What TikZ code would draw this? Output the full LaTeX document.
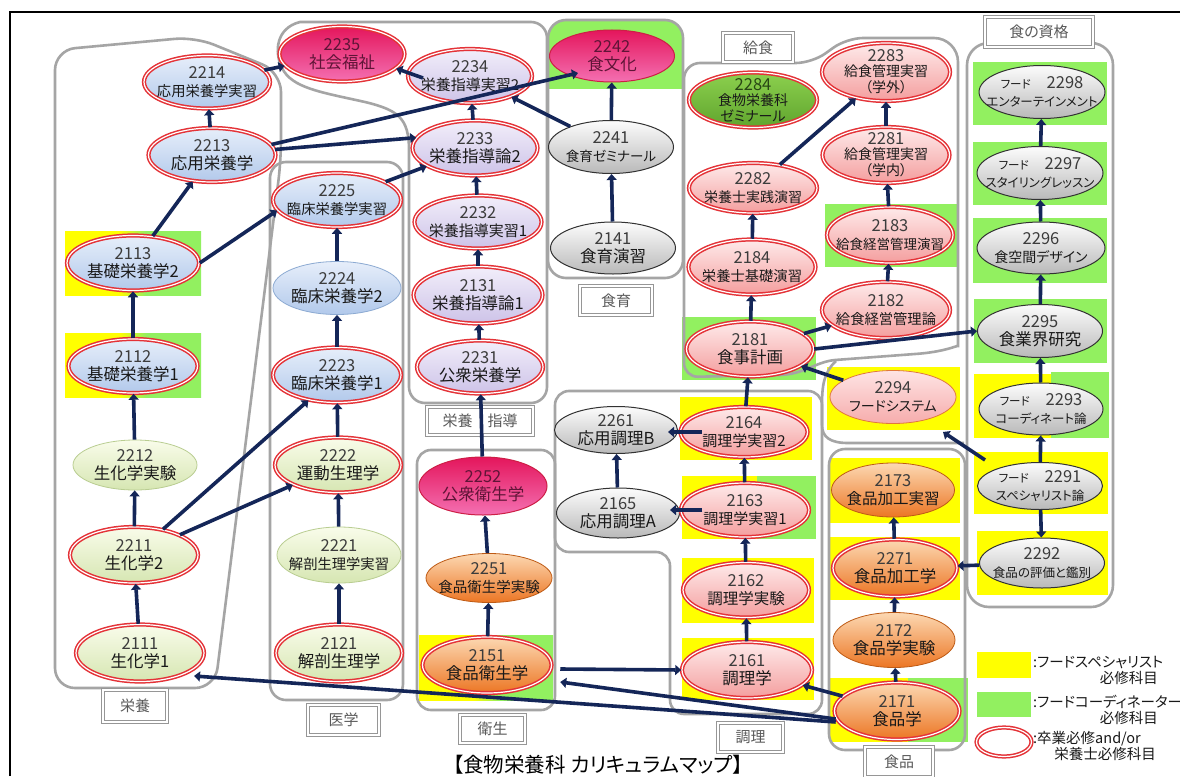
\documentclass[tikz,border=0pt]{standalone}
\usepackage{fontspec}
\usetikzlibrary{arrows.meta,shapes.geometric,calc}
\newfontfamily\jp[RawFeature=+palt]{Noto Sans CJK JP}

% palette
\definecolor{navy}{RGB}{20,38,88}
\definecolor{grpc}{RGB}{165,165,165}
\definecolor{ylw}{RGB}{255,255,0}
\definecolor{grn}{RGB}{146,240,96}
\definecolor{ringc}{RGB}{228,50,55}
\definecolor{numc}{RGB}{60,60,60}
\definecolor{txtc}{RGB}{25,25,25}
\definecolor{tagc}{RGB}{150,150,150}
\definecolor{tagtxt}{RGB}{90,90,90}
\definecolor{bluet}{RGB}{230,238,250}
\definecolor{blueb}{RGB}{178,201,235}
\definecolor{blueo}{RGB}{140,170,210}
\definecolor{lavt}{RGB}{242,238,250}
\definecolor{lavb}{RGB}{205,195,232}
\definecolor{lgt}{RGB}{249,252,234}
\definecolor{lgb}{RGB}{214,230,178}
\definecolor{lgo}{RGB}{185,205,145}
\definecolor{magt}{RGB}{228,22,92}
\definecolor{magb}{RGB}{244,112,178}
\definecolor{mago}{RGB}{205,30,70}
\definecolor{magtxt}{RGB}{95,20,55}
\definecolor{gryt}{RGB}{252,252,252}
\definecolor{gryb}{RGB}{185,185,185}
\definecolor{gryo}{RGB}{50,50,50}
\definecolor{salt}{RGB}{254,234,234}
\definecolor{salb}{RGB}{244,158,158}
\definecolor{orgt}{RGB}{252,216,178}
\definecolor{orgb}{RGB}{236,118,36}
\definecolor{orgo}{RGB}{190,90,20}
\definecolor{gnt}{RGB}{140,208,78}
\definecolor{gnb}{RGB}{96,165,46}
\definecolor{gntxt}{RGB}{40,70,20}
\definecolor{pnkt}{RGB}{254,228,228}
\definecolor{pnkb}{RGB}{246,172,172}
\definecolor{pnko}{RGB}{225,120,60}

% yellow-to-green split used behind courses counted for both certificates
\pgfdeclarehorizontalshading{ygsplit}{100bp}{color(0bp)=(ylw); color(45bp)=(ylw); color(55bp)=(grn); color(100bp)=(grn)}

% one course: ellipse n<code> plus its caption t<code>
\newcommand{\crs}[6]{%
  \node[#3, minimum width=#4pt, minimum height=#5pt] (n#1) at (#2) {};
  \node[ctext] (t#1) at (n#1.center) {#6};}
\newcommand{\nm}[2][numc]{{\color{#1}\fontsize{16.5}{18}\selectfont #2}}
\newcommand{\lb}[2][16.5]{{\fontsize{#1}{#1}\selectfont #2}}
\newcommand{\fd}[1]{{\fontsize{11.5}{12}\selectfont フード}\hspace{16pt}\nm{#1}}

\begin{document}
\begin{tikzpicture}[x=1pt,y=-1pt,
  crsbase/.style={ellipse, inner sep=0pt, line width=0.8pt},
  ringed/.style={draw=ringc, double=white, double distance=1.2pt, line width=1.5pt},
  bluen/.style={crsbase, top color=bluet, bottom color=blueb, draw=blueo},
  lavn/.style={crsbase, top color=lavt, bottom color=lavb, draw=lavb},
  lgn/.style={crsbase, top color=lgt, bottom color=lgb, draw=lgo},
  magn/.style={crsbase, top color=magt, bottom color=magb, draw=mago},
  magthin/.style={magn, line width=1pt},
  gryn/.style={crsbase, top color=gryt, bottom color=gryb, draw=gryo, line width=1pt},
  saln/.style={crsbase, top color=salt, bottom color=salb, draw=ringc},
  orgn/.style={crsbase, top color=orgt, bottom color=orgb, draw=orgo},
  grnn/.style={crsbase, top color=gnt, bottom color=gnb, draw=gnb},
  pnkn/.style={crsbase, top color=pnkt, bottom color=pnkb, draw=pnko},
  ctext/.style={align=center, inner sep=0pt, text=txtc, font=\jp\fontsize{16}{18}\selectfont},
  grouptag/.style={draw=tagc, line width=0.9pt, double=white, double distance=1.8pt, fill=white,
    text=tagtxt, font=\jp\fontsize{15}{15}\selectfont, inner sep=0pt},
  grp/.style={draw=grpc, line width=2.6pt},
  flow/.style={draw=navy, line width=3.6pt, -{Triangle[length=6pt,width=10pt]}},
  legtext/.style={anchor=west, inner sep=0pt, text=txtc, font=\jp\fontsize{14.5}{15}\selectfont}
]
\useasboundingbox (0,0) rectangle (1180,776);
\fill[white] (0,0) rectangle (1180,776);

% page frame
\draw[line width=1.4pt] (10,776) -- (10,12) -- (1180,12);

% certificate backgrounds
\shade[shading=ygsplit] (65,231) rectangle (201,295);
\shade[shading=ygsplit] (65,333) rectangle (201,397);
\shade[shading=ygsplit] (419,635) rectangle (553,700);
\begin{scope}
  \clip[rounded corners=18pt] (548,20) rectangle (683,278);
  \fill[grn] (548,20) rectangle (683,89);
\end{scope}
\fill[grn] (825,204) rectangle (957,267);
\fill[grn] (682,317) rectangle (816,380);
\fill[ylw] (680,397) rectangle (812,460);
\fill[ylw] (682,476) rectangle (757,539);
\fill[grn] (757,476) rectangle (816,539);
\fill[ylw] (682,558) rectangle (814,623);
\fill[ylw] (682,638) rectangle (814,700);
\fill[ylw] (827,367) rectangle (960,430);
\fill[ylw] (830,458) rectangle (960,523);
\fill[ylw] (830,537) rectangle (960,600);
\fill[ylw] (830,678) rectangle (908,742);
\fill[grn] (908,678) rectangle (968,742);
\fill[grn] (973,62) rectangle (1107,125);
\fill[grn] (973,142) rectangle (1107,205);
\fill[grn] (973,218) rectangle (1107,283);
\fill[grn] (974,299) rectangle (1107,363);
\fill[ylw] (974,374) rectangle (1051,438);
\fill[grn] (1051,372) rectangle (1109,438);
\fill[ylw] (974,452) rectangle (1108,514);
\fill[ylw] (977,531) rectangle (1108,595);

% subject group outlines
\draw[grp, rounded corners=20pt] (55,400) -- (55,50) -- (195,37) -- (281,72) -- (281,160) -- (215,688) -- (55,688) -- (55,400);
\draw[grp, rounded corners=16pt] (270,162) rectangle (403,700);
\draw[grp] (409,250) -- (409,150) .. controls (409,118) and (398,110) .. (365,102)
  .. controls (320,92) and (292,88) .. (282,68) .. controls (274,52) and (276,28) .. (300,22)
  [rounded corners=16pt] -- (547,22) -- (547,403) -- (409,403) -- (409,250);
\draw[grp, rounded corners=18pt] (548,20) rectangle (683,278);
\draw[grp] (684,220) [rounded corners=16pt] -- (684,63) -- (812,63) -- (847,38)
  [rounded corners=24pt] -- (958,38) -- (958,322)
  [sharp corners] .. controls (958,345) and (945,352) .. (915,354) -- (835,360)
  .. controls (815,362) and (805,374) .. (780,375) [rounded corners=14pt] -- (684,377) -- (684,220);
\draw[grp, rounded corners=14pt] (555,470) -- (555,391) -- (822,391) -- (822,714) -- (670,714) -- (670,552) -- (555,552) -- (555,470);
\draw[grp] (836,361) .. controls (824,372) and (822,385) .. (822,405) -- (822,425)
  .. controls (822,437) and (830,443) .. (848,443) -- (964,443);
\draw[grp, rounded corners=14pt] (417,450) rectangle (555,710);
\draw[grp, rounded corners=16pt] (829,449) rectangle (965,750);
\draw[grp, rounded corners=22pt] (967,43) rectangle (1113,607);

% group tags
\node[grouptag, minimum width=64pt, minimum height=32pt] (gEiyo) at (135,706) {栄養};
\node[grouptag, minimum width=71pt, minimum height=30pt] (gIgaku) at (343.5,720) {医学};
\node[grouptag, minimum width=106pt, minimum height=28pt] (gShido) at (480,421) {栄養　指導};
\node[grouptag, minimum width=72pt, minimum height=29pt] (gShokuiku) at (616,300.5) {食育};
\node[grouptag, minimum width=70pt, minimum height=29pt] (gKyushoku) at (758,47.5) {給食};
\node[grouptag, minimum width=108pt, minimum height=30pt] (gShikaku) at (1039,32) {食の資格};
\node[grouptag, minimum width=65pt, minimum height=28pt] (gEisei) at (492.5,729) {衛生};
\node[grouptag, minimum width=65pt, minimum height=29pt] (gChori) at (750.5,737.5) {調理};
\node[grouptag, minimum width=68pt, minimum height=30pt] (gShokuhin) at (899,762) {食品};

% courses
\crs{2214}{207,82}{bluen,ringed}{126}{53}{\nm{2214}\\\lb[14.3]{応用栄養学実習}}
\crs{2213}{212,155}{bluen,ringed}{127}{54}{\nm{2213}\\\lb{応用栄養学}}
\crs{2113}{133,263}{bluen,ringed}{132}{55}{\nm{2113}\\\lb{基礎栄養学2}}
\crs{2112}{133,366}{bluen,ringed}{129}{54}{\nm{2112}\\\lb{基礎栄養学1}}
\crs{2212}{135,465}{lgn}{124}{50}{\nm{2212}\\\lb{生化学実験}}
\crs{2211}{134,555}{lgn,ringed}{128}{56}{\nm{2211}\\\lb{生化学2}}
\crs{2111}{140,653}{lgn,ringed}{128}{57}{\nm{2111}\\\lb{生化学1}}
\crs{2225}{337,200}{bluen,ringed}{128}{54}{\nm{2225}\\\lb[14.3]{臨床栄養学実習}}
\crs{2224}{337,288}{bluen}{128}{53}{\nm{2224}\\\lb{臨床栄養学2}}
\crs{2223}{337,375}{bluen,ringed}{128}{55}{\nm{2223}\\\lb{臨床栄養学1}}
\crs{2222}{338,465}{lgn,ringed}{126}{55}{\nm{2222}\\\lb{運動生理学}}
\crs{2221}{339,555}{lgn}{124}{56}{\nm{2221}\\\lb[14.3]{解剖生理学実習}}
\crs{2121}{339,653}{lgn,ringed}{126}{57}{\nm{2121}\\\lb{解剖生理学}}
\crs{2235}{342,54}{magn,ringed}{125}{55}{\nm[magtxt]{2235}\\\lb{\color{magtxt}社会福祉}}
\crs{2234}{470,76}{lavn,ringed}{124}{54}{\nm{2234}\\\lb[15]{栄養指導実習2}}
\crs{2233}{475,148}{lavn,ringed}{125}{55}{\nm{2233}\\\lb{栄養指導論2}}
\crs{2232}{478,222}{lavn,ringed}{127}{53}{\nm{2232}\\\lb[15]{栄養指導実習1}}
\crs{2131}{478,295}{lavn,ringed}{129}{57}{\nm{2131}\\\lb{栄養指導論1}}
\crs{2231}{480,367}{lavn,ringed}{126}{53}{\nm{2231}\\\lb{公衆栄養学}}
\crs{2242}{612,56}{magthin}{125}{52}{\nm[magtxt]{2242}\\\lb{\color{magtxt}食文化}}
\crs{2241}{611,147}{gryn}{125}{53}{\nm{2241}\\\lb[13.5]{食育ゼミナール}}
\crs{2141}{613,248}{gryn}{125}{52}{\nm{2141}\\\lb{食育演習}}
\crs{2284}{753,100}{grnn,ringed}{128}{55}{\nm[gntxt]{2284}\\[-3pt]\lb[14]{食物栄養科}\\[-2pt]\lb[14]{ゼミナール}}
\crs{2283}{886,72}{saln,ringed}{128}{58}{\nm{2283}\\[-3pt]\lb[14]{給食管理実習}\\[-2pt]\lb[14]{（学外）}}
\crs{2281}{886,155}{saln,ringed}{127}{56}{\nm{2281}\\[-3pt]\lb[14]{給食管理実習}\\[-2pt]\lb[14]{（学内）}}
\crs{2282}{753,188}{saln,ringed}{128}{50}{\nm{2282}\\\lb[14]{栄養士実践演習}}
\crs{2183}{890,235}{saln,ringed}{126}{56}{\nm{2183}\\\lb[13.5]{給食経営管理演習}}
\crs{2184}{752,267}{saln,ringed}{127}{55}{\nm{2184}\\\lb[14.3]{栄養士基礎演習}}
\crs{2182}{886,310}{saln,ringed}{128}{56}{\nm{2182}\\\lb[14.3]{給食経営管理論}}
\crs{2181}{750,349}{saln,ringed}{127}{55}{\nm{2181}\\\lb{食事計画}}
\crs{2252}{483,486}{magthin}{128}{58}{\nm[magtxt]{2252}\\\lb{\color{magtxt}公衆衛生学}}
\crs{2251}{489,578}{orgn}{126}{49}{\nm{2251}\\\lb[14.5]{食品衛生学実験}}
\crs{2151}{487,665}{orgn,ringed}{129}{56}{\nm{2151}\\\lb{食品衛生学}}
\crs{2261}{616,430}{gryn}{123}{47}{\nm{2261}\\\lb{応用調理B}}
\crs{2165}{618,513}{gryn}{123}{50}{\nm{2165}\\\lb{応用調理A}}
\crs{2164}{744,432}{saln,ringed}{127}{50}{\nm{2164}\\\lb[15]{調理学実習2}}
\crs{2163}{745,510}{saln,ringed}{128}{54}{\nm{2163}\\\lb[15]{調理学実習1}}
\crs{2162}{746,590}{saln,ringed}{126}{55}{\nm{2162}\\\lb[15.5]{調理学実験}}
\crs{2161}{747,670}{saln,ringed}{130}{56}{\nm{2161}\\\lb{調理学}}
\crs{2294}{893,397}{pnkn}{126}{53}{\nm{2294}\\\lb[14]{フードシステム}}
\crs{2173}{893,490}{orgn}{123}{54}{\nm{2173}\\\lb[15.5]{食品加工実習}}
\crs{2271}{895,568}{orgn,ringed}{124}{57}{\nm{2271}\\\lb{食品加工学}}
\crs{2172}{894,640}{orgn}{122}{55}{\nm{2172}\\\lb{食品学実験}}
\crs{2171}{897,711}{orgn,ringed}{125}{57}{\nm{2171}\\\lb{食品学}}
\crs{2298}{1042,92}{gryn}{126}{53}{\fd{2298}\\\lb[12.5]{エンターテインメント}}
\crs{2297}{1040,173}{gryn}{126}{53}{\fd{2297}\\\lb[12.5]{スタイリングレッスン}}
\crs{2296}{1041,248}{gryn}{128}{52}{\nm{2296}\\\lb[14]{食空間デザイン}}
\crs{2295}{1040,331}{gryn}{125}{53}{\nm{2295}\\\lb{食業界研究}}
\crs{2293}{1041,409}{gryn}{124}{52}{\fd{2293}\\\lb[12.5]{コーディネート論}}
\crs{2291}{1040,486}{gryn}{125}{47}{\fd{2291}\\\lb[12.5]{スペシャリスト論}}
\crs{2292}{1042,563}{gryn}{125}{50}{\nm{2292}\\\lb[12.5]{食品の評価と鑑別}}

% prerequisite arrows
\draw[flow] (n2111) -- (n2211);
\draw[flow] (n2211) -- (n2212);
\draw[flow] (n2212) -- (n2112);
\draw[flow] (n2112) -- (n2113);
\draw[flow] (n2113) -- (n2213);
\draw[flow] (n2213) -- (n2214);
\draw[flow] (n2214) -- (n2235);
\draw[flow] (n2113.east) -- (n2225.190);
\draw[flow] (n2213.10) -- ($(n2242.center)+(-34,17)$);
\draw[flow] (n2213.5) -- (n2233.170);
\draw[flow] (n2225) -- (n2233);
\draw[flow] (n2211) -- (n2223);
\draw[flow] (n2211) -- (n2222);
\draw[flow] (n2121) -- (n2221);
\draw[flow] (n2221) -- (n2222);
\draw[flow] (n2222) -- (n2223);
\draw[flow] (n2223) -- (n2224);
\draw[flow] (n2224) -- (n2225);
\draw[flow] (n2231) -- (n2131);
\draw[flow] (n2131) -- (n2232);
\draw[flow] (n2232) -- (n2233);
\draw[flow] (n2233) -- (n2234);
\draw[flow] ($(n2234.center)+(-47,2)$) -- (n2235.-15);
\draw[flow] (n2241) -- (n2234);
\draw[flow] (n2241) -- (n2242);
\draw[flow] (n2141) -- (n2241);
\draw[flow] (n2252) -- (n2231);
\draw[flow] (n2251) -- (n2252);
\draw[flow] (n2151) -- (n2251);
\draw[flow] ($(n2151.east)+(8,4)$) -- (n2161.west);
\draw[flow] ($(n2171.west)+(2,8)$) -- ($(n2151.east)+(8,17)$);
\draw[flow] ($(n2171.west)+(2,11)$) -- ($(n2111.center)+(54,23)$);
\draw[flow] (n2171) -- (n2161);
\draw[flow] (n2161) -- (n2162);
\draw[flow] (n2162) -- (n2163);
\draw[flow] (n2163) -- (n2164);
\draw[flow] ($(n2163.west)+(22,0)$) -- ($(n2165.east)+(-10,-3)$);
\draw[flow] ($(n2164.west)+(22,0)$) -- ($(n2261.east)+(-10,2)$);
\draw[flow] (n2165) -- (n2261);
\draw[flow] (n2164) -- (n2181);
\draw[flow] (n2181) -- (n2184);
\draw[flow] (n2184) -- (n2282);
\draw[flow] (n2282) -- (n2283);
\draw[flow] (n2181) -- (n2182);
\draw[flow] (n2181.east) -- (n2295.west);
\draw[flow] (n2294) -- (n2181);
\draw[flow] ($(n2291.center)+(-55,-26)$) -- ($(n2294.center)+(50,35)$);
\draw[flow] (n2291) -- (n2293);
\draw[flow] (n2293) -- (n2295);
\draw[flow] (n2295) -- (n2296);
\draw[flow] (n2296) -- (n2297);
\draw[flow] (n2297) -- (n2298);
\draw[flow] (n2291) -- (n2292);
\draw[flow] (n2292) -- (n2271);
\draw[flow] (n2172) -- (n2271);
\draw[flow] (n2271) -- (n2173);
\draw[flow] (n2171) -- (n2172);
\draw[flow] (n2182) -- (n2183);
\draw[flow] (n2183) -- (n2281);
\draw[flow] (n2281) -- (n2283);

% legend
\fill[ylw] (977,652) rectangle (1031,678);
\fill[grn] (977,692) rectangle (1031,717);
\node[crsbase, ringed, fill=white, minimum width=55pt, minimum height=29pt] (legRing) at (1004,742) {};
\node[legtext] (leg1a) at (1033,663) {:フードスペシャリスト};
\node[legtext, anchor=east, font=\jp\fontsize{14.5}{15}\selectfont] (leg1b) at (1158,678) {必修科目};
\node[legtext] (leg2a) at (1033,702) {:フードコーディネーター};
\node[legtext, anchor=east, font=\jp\fontsize{14.5}{15}\selectfont] (leg2b) at (1158,718) {必修科目};
\node[legtext] (leg3a) at (1033,739) {:卒業必修and/or};
\node[legtext, anchor=east, font=\jp\fontsize{14.5}{15}\selectfont] (leg3b) at (1156,754) {栄養士必修科目};

% title
\node[inner sep=0pt, text=black, font=\jp\fontsize{20.5}{23}\selectfont] (title) at (598,765) {【食物栄養科 カリキュラムマップ】};
\end{tikzpicture}
\end{document}
